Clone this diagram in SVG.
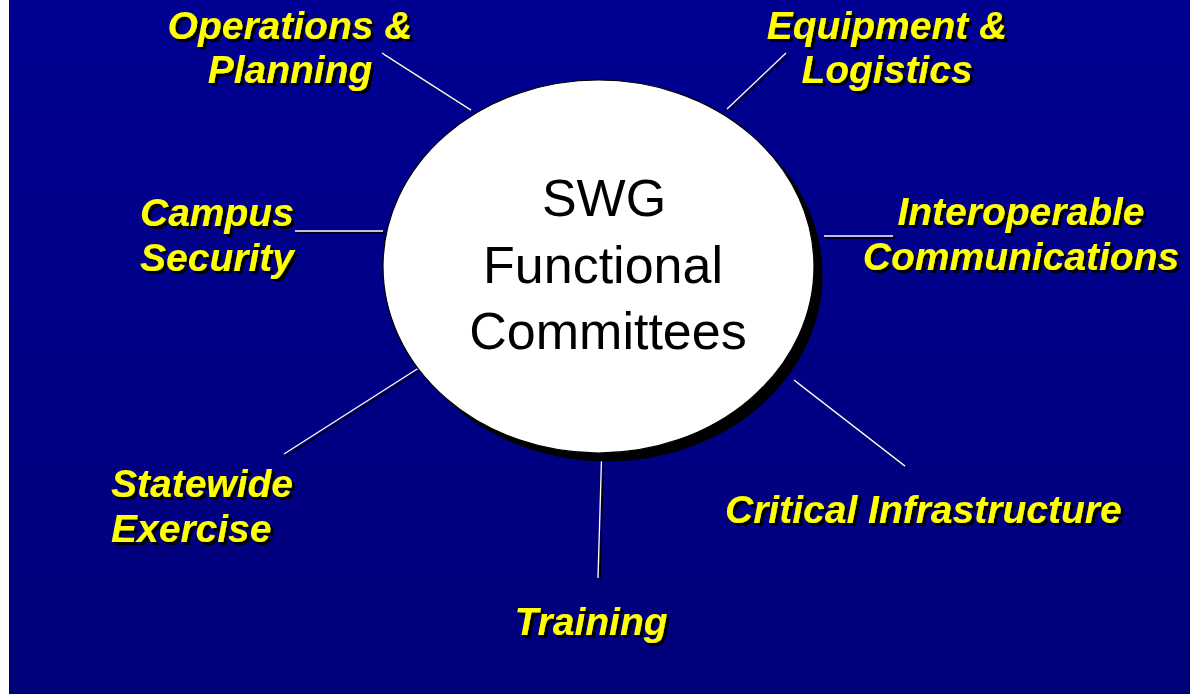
<svg xmlns="http://www.w3.org/2000/svg" width="1190" height="694" viewBox="0 0 1190 694">
  <defs>
    <linearGradient id="bg" x1="0" y1="0" x2="0" y2="1">
      <stop offset="0" stop-color="#000092"/>
      <stop offset="1" stop-color="#00007A"/>
    </linearGradient>
    <filter id="tshadow" x="-5%" y="-20%" width="115%" height="150%">
      <feFlood flood-color="#000000" result="k"/>
      <feComposite in="k" in2="SourceAlpha" operator="in" result="s"/>
      <feOffset in="s" dx="3" dy="3" result="so"/>
      <feMerge><feMergeNode in="so"/><feMergeNode in="SourceGraphic"/></feMerge>
    </filter>
    <filter id="lshadow" filterUnits="userSpaceOnUse" x="0" y="0" width="1190" height="694">
      <feFlood flood-color="#000000" result="k"/>
      <feComposite in="k" in2="SourceAlpha" operator="in" result="s"/>
      <feOffset in="s" dx="2" dy="2" result="so"/>
      <feMerge><feMergeNode in="so"/><feMergeNode in="SourceGraphic"/></feMerge>
    </filter>
    <style>
      .lbl { font-family: "Liberation Sans", Arial, sans-serif; font-weight: bold; font-style: italic; font-size: 39px; fill: #FFFF00; filter: url(#tshadow); }
      .mid { text-anchor: middle; }
      .ctr { font-family: "Liberation Sans", Arial, sans-serif; font-size: 52px; fill: #000000; text-anchor: middle; }
      .conn line { stroke: #FFFFFF; stroke-width: 1.3; }
    </style>
  </defs>

  <rect x="0" y="0" width="1190" height="694" fill="#FFFFFF"/>
  <rect x="9" y="0" width="1181" height="694" fill="url(#bg)"/>

  <g id="connectors" class="conn" filter="url(#lshadow)">
    <line x1="382" y1="53" x2="471" y2="110"/>
    <line x1="786" y1="53" x2="727" y2="109"/>
    <line x1="295" y1="231" x2="383" y2="231"/>
    <line x1="824" y1="236" x2="893" y2="236"/>
    <line x1="425" y1="364" x2="284" y2="454"/>
    <line x1="794" y1="380" x2="905" y2="466"/>
    <line x1="601.5" y1="459" x2="598" y2="578"/>
  </g>

  <g id="center">
    <ellipse cx="607" cy="275" rx="215.5" ry="186.5" fill="#000000"/>
    <ellipse cx="598.5" cy="266.5" rx="215.5" ry="186.5" fill="#FFFFFF" stroke="#000000" stroke-width="1.2"/>
    <text class="ctr" x="604" y="216">SWG</text>
    <text class="ctr" x="603" y="283">Functional</text>
    <text class="ctr" x="608" y="349">Committees</text>
  </g>

  <g id="operations">
    <text class="lbl mid" x="290" y="39">Operations &amp;</text>
    <text class="lbl mid" x="290" y="83">Planning</text>
  </g>
  <g id="equipment">
    <text class="lbl mid" x="887" y="39">Equipment &amp;</text>
    <text class="lbl mid" x="887" y="83">Logistics</text>
  </g>
  <g id="campus">
    <text class="lbl" x="140" y="226">Campus</text>
    <text class="lbl" x="140" y="271">Security</text>
  </g>
  <g id="interoperable">
    <text class="lbl mid" x="1021" y="225">Interoperable</text>
    <text class="lbl mid" x="1021" y="270">Communications</text>
  </g>
  <g id="statewide">
    <text class="lbl" x="111" y="497">Statewide</text>
    <text class="lbl" x="111" y="542">Exercise</text>
  </g>
  <g id="critical">
    <text class="lbl" x="725" y="523">Critical Infrastructure</text>
  </g>
  <g id="training">
    <text class="lbl mid" x="591" y="635">Training</text>
  </g>
</svg>
